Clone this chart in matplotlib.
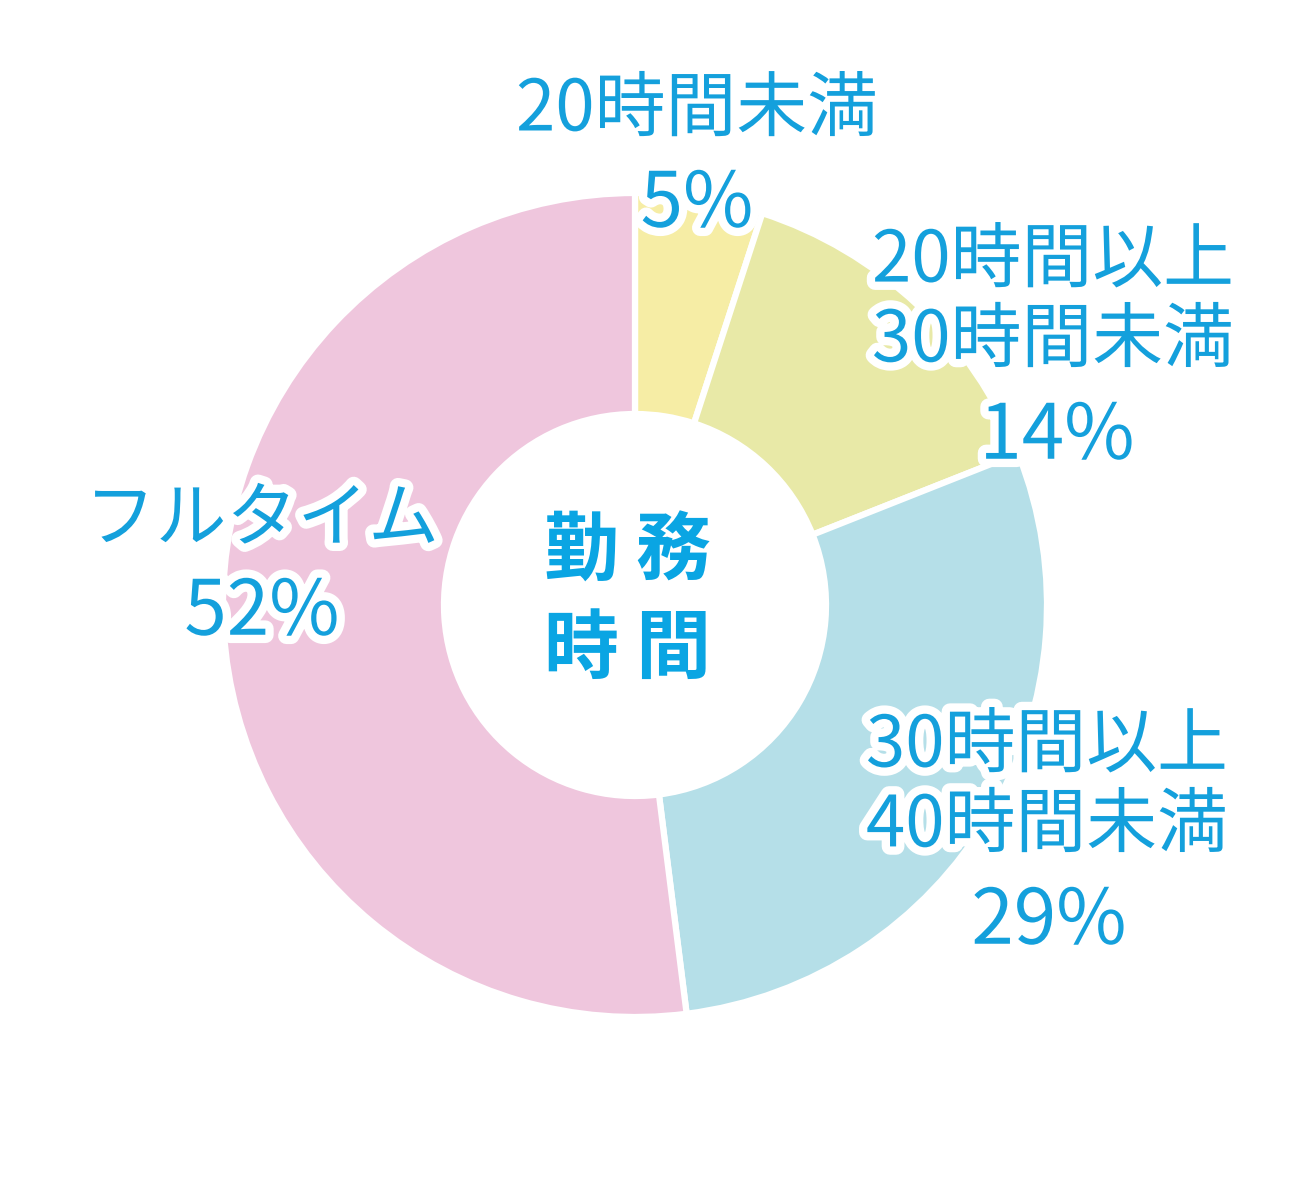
import matplotlib.pyplot as plt
import matplotlib.patheffects as pe

plt.rcParams['font.family'] = ['Noto Sans CJK JP', 'DejaVu Sans']

# 勤務時間の内訳
labels = ['20時間未満', '20時間以上\n30時間未満', '30時間以上\n40時間未満', 'フルタイム']
shares = [5, 14, 29, 52]
colors = ['#F6EDA5', '#E8E9A7', '#B5DFE8', '#EFC6DD']
text_blue = '#14A0DC'

fig = plt.figure(figsize=(13, 12), dpi=100)
ax = fig.add_axes([0, 0, 1, 1])

ax.pie(shares, colors=colors, startangle=90, counterclock=False,
       center=(635, 595), radius=412,
       wedgeprops=dict(width=221, edgecolor='white', linewidth=4.5))

# pie resets the limits, so set them afterwards
ax.set_xlim(0, 1300)
ax.set_ylim(0, 1200)
ax.set_aspect('equal')
ax.axis('off')

stroke = [pe.withStroke(linewidth=12, foreground='white')]

# label positions in pixel coords (y from top)
lab_pos = [(697, 110), (1053, 301), (1047, 786), (262, 520)]
pct_pos = [(697, 205), (1057, 437), (1049, 922), (262, 613)]

for lab, v, (lx, ly), (px, py) in zip(labels, shares, lab_pos, pct_pos):
    ax.text(lx, 1200 - ly, lab, ha='center', va='center', fontsize=51,
            color=text_blue, linespacing=1.12, path_effects=stroke)
    ax.text(px, 1200 - py, f'{v}%', ha='center', va='center', fontsize=55,
            color=text_blue, path_effects=stroke)

ax.text(628, 1200 - 553, '勤 務', ha='center', va='center', fontsize=54,
        fontweight='bold', color='#0AA5E3')
ax.text(628, 1200 - 650, '時 間', ha='center', va='center', fontsize=54,
        fontweight='bold', color='#0AA5E3')

fig.savefig('out.png', dpi=100, facecolor='white')
